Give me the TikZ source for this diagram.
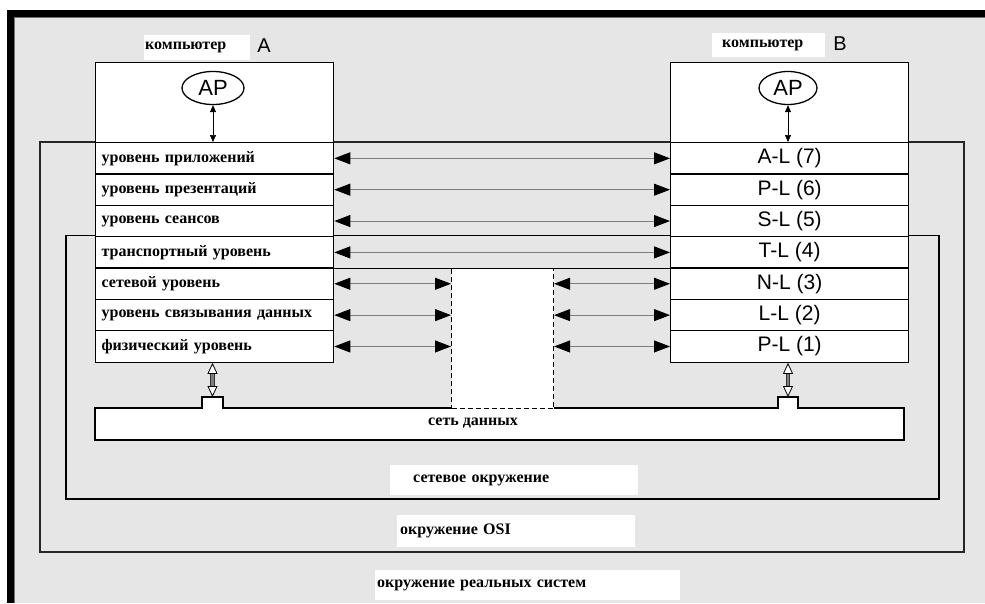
\documentclass[tikz,border=0pt]{standalone}
\usepackage{fontspec}
\setmainfont{Liberation Serif}
\newfontfamily\lsans{Liberation Sans}
\usetikzlibrary{arrows.meta,shapes.geometric}
\definecolor{bggray}{RGB}{230,230,230}
\definecolor{shaftgray}{RGB}{125,125,125}
\tikzset{
  rus/.style={font=\fontsize{16}{18}\selectfont\bfseries},
  compbox/.style={draw=black, line width=1.3pt, fill=white, minimum width=238pt, minimum height=80pt, anchor=north west, inner sep=0pt},
  layerA/.style={draw=black, line width=1.3pt, fill=white, minimum width=238pt, minimum height=31.36pt, anchor=north west, inner xsep=6pt, inner ysep=0pt, text width=226pt, align=left, rus},
  layerB/.style={draw=black, line width=1.3pt, fill=white, minimum width=238pt, minimum height=31.36pt, anchor=north west, inner sep=0pt, font=\lsans\fontsize{21}{23}\selectfont},
  apnode/.style={ellipse, draw=black, line width=1.3pt, fill=white, minimum height=33pt, inner sep=0pt, font=\lsans\fontsize{22}{24}\selectfont},
  lbox/.style={fill=white, anchor=north west, inner ysep=0pt, align=left, rus},
  peer/.style={draw=shaftgray, line width=0.9pt, {Triangle[length=16pt,width=12pt,color=black]}-{Triangle[length=16pt,width=12pt,color=black]}},
  apar/.style={draw=black, line width=0.7pt, {Triangle[length=7pt,width=6pt]}-{Triangle[length=7pt,width=6pt]}},
  envline/.style={draw=black, line width=1.3pt},
  dashbox/.style={draw=black, line width=1.1pt, dash pattern=on 5pt off 3pt, fill=white, anchor=north west, minimum width=102pt, minimum height=140pt, inner sep=0pt},
  letter/.style={font=\lsans\fontsize{20}{22}\selectfont, inner sep=0pt}
}
\begin{document}
\begin{tikzpicture}[x=1pt,y=-1pt]
\useasboundingbox (0,0) rectangle (985,603);
% background and outer frame
\fill[white] (0,0) rectangle (985,603);
\fill[bggray] (7,10) rectangle (985,603);
\draw[line width=7pt, black] (10.5,603) -- (10.5,13.5) -- (985,13.5);
\draw[line width=0.7pt, black!55] (14.5,603) -- (14.5,17.5) -- (985,17.5);
% environment boxes
\draw[envline, draw=black!85] (40,142) rectangle (964,552);
\draw[envline] (66,235.5) rectangle (939,499);
% data network
\fill[white] (95,408) -- (202,408) -- (202,397) -- (223,397) -- (223,408) -- (778,408) -- (778,397) -- (798,397) -- (798,408) -- (904,408) -- (904,440) -- (95,440) -- cycle;
\draw[envline] (451,408) -- (223,408) -- (223,397) -- (202,397) -- (202,408) -- (95,408) -- (95,440) -- (904,440) -- (904,408) -- (798,408) -- (798,397) -- (778,397) -- (778,408) -- (553,408);
\node[rus, inner sep=0pt] (net) at (473,423) {сеть данных};
\node[dashbox] (sub) at (451,268) {};
% computer A
\node[compbox] (compA) at (95,62) {};
\node[layerA] (a7) at (95,142) {уровень приложений};
\node[layerA] (a6) at (95,173.36) {уровень презентаций};
\node[layerA] (a5) at (95,204.71) {уровень сеансов};
\node[layerA] (a4) at (95,236.07) {транспортный уровень};
\node[layerA] (a3) at (95,267.43) {сетевой уровень};
\node[layerA] (a2) at (95,298.79) {уровень связывания данных};
\node[layerA] (a1) at (95,330.14) {физический уровень};
\node[apnode, minimum width=62pt] (apA) at (213,88) {AP};
% computer B
\node[compbox] (compB) at (670,62) {};
\node[layerB] (b7) at (670,142) {A-L (7)};
\node[layerB] (b6) at (670,173.36) {P-L (6)};
\node[layerB] (b5) at (670,204.71) {S-L (5)};
\node[layerB] (b4) at (670,236.07) {T-L (4)};
\node[layerB] (b3) at (670,267.43) {N-L (3)};
\node[layerB] (b2) at (670,298.79) {L-L (2)};
\node[layerB] (b1) at (670,330.14) {P-L (1)};
\node[apnode, minimum width=58pt] (apB) at (788,88) {AP};
% line between the computers above the subnetwork
\draw[line width=1.3pt] (a4.south east) -- (b4.south west);
% computer labels
\node[lbox, minimum width=106pt, minimum height=25pt, inner xsep=1pt, text width=104pt] (cA) at (144,35) {компьютер};
\node[letter] (lA) at (264,46) {A};
\node[lbox, minimum width=113pt, minimum height=24pt, inner xsep=10pt, text width=93pt] (cB) at (712,33) {компьютер};
\node[letter] (lB) at (840,44) {B};
% environment labels
\node[lbox, minimum width=248pt, minimum height=30pt, inner xsep=23pt, text width=202pt] (lnet) at (390,465) {сетевое окружение};
\node[lbox, minimum width=238pt, minimum height=32pt, inner xsep=3pt, text width=232pt] (losi) at (397,515) {окружение OSI};
\node[lbox, minimum width=305pt, minimum height=30pt, inner xsep=2pt, text width=301pt] (lreal) at (375,570) {окружение реальных систем};
% AP arrows
\draw[apar] (apA.south) -- (apA.south |- a7.north);
\draw[apar] (apB.south) -- (apB.south |- b7.north);
% peer arrows
\draw[peer] (a7.east) -- (b7.west);
\draw[peer] (a6.east) -- (b6.west);
\draw[peer] (a5.east) -- (b5.west);
\draw[peer] (a4.east) -- (b4.west);
\draw[peer] (a3.east) -- (a3.east -| sub.west);
\draw[peer] (a2.east) -- (a2.east -| sub.west);
\draw[peer] (a1.east) -- (a1.east -| sub.west);
\draw[peer] (b3.west -| sub.east) -- (b3.west);
\draw[peer] (b2.west -| sub.east) -- (b2.west);
\draw[peer] (b1.west -| sub.east) -- (b1.west);
% physical connections
\coordinate (bumpA) at (212.5,397);
\coordinate (bumpB) at (788,397);
\foreach \s/\t in {a1/bumpA, b1/bumpB}{
  \coordinate (p) at (\t |- \s.south);
  \draw[line width=0.8pt, {Triangle[open,fill=white,length=11pt,width=10pt]}-{Triangle[open,fill=white,length=11pt,width=10pt]}] (p) -- (\t);
  \draw[line width=4.6pt, black!80, shorten <=11pt, shorten >=11pt] (p) -- (\t);
  \draw[line width=2.8pt, shaftgray, shorten <=11pt, shorten >=11pt] (p) -- (\t);
}
\end{tikzpicture}
\end{document}
